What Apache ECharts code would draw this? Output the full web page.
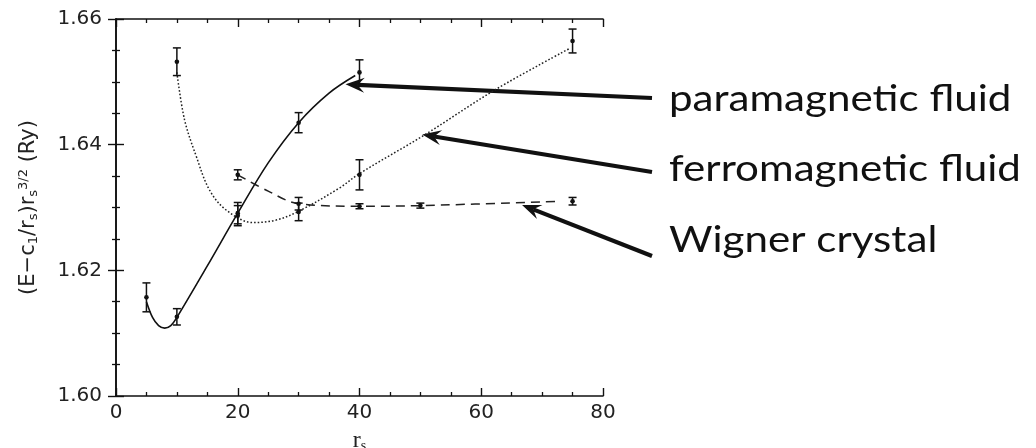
<!DOCTYPE html>
<html>
<head>
<meta charset="utf-8">
<script src="https://cdn.jsdelivr.net/npm/echarts@6/dist/echarts.min.js"></script>
<style>
html,body{margin:0;padding:0;background:#fff;}
#c{width:1036px;height:448px;}
</style>
</head>
<body>
<div id="c"></div>
<script>
// ---- axis ticks ----
const xTicks = [0, 20, 40, 60, 80];
const yTicks = [1.60, 1.62, 1.64, 1.66];

// ---- data points with error bars (r_s, energy, error) ----
const paraR   = [5, 10, 20, 30, 40];
const paraE   = [1.6157, 1.6126, 1.6291, 1.6435, 1.6515];
const paraErr = [0.0023, 0.0013, 0.0017, 0.0016, 0.0020];

const ferroR   = [10, 20, 30, 40, 75];
const ferroE   = [1.6532, 1.6287, 1.6293, 1.6352, 1.6565];
const ferroErr = [0.0022, 0.0016, 0.0014, 0.0024, 0.0019];

const wignerR   = [20, 30, 40, 50, 75];
const wignerE   = [1.6352, 1.6306, 1.6302, 1.6303, 1.6310];
const wignerErr = [0.0008, 0.0010, 0.0004, 0.0004, 0.0006];

// ---- fitted curves ----
const paraCurveR = [5, 6, 7, 8, 9, 10, 15, 20, 25, 30, 35, 39.3];
const paraCurveE = [1.6150, 1.6125, 1.6112, 1.6108, 1.6112, 1.6125, 1.6207, 1.6291, 1.6371, 1.6435, 1.6482, 1.6510];

const ferroCurveR = [10, 11.25, 13.2, 15.35, 18.1, 22.5, 26.3, 30, 36.7, 40, 50.6, 62.4, 74.5];
const ferroCurveE = [1.6515, 1.6440, 1.6381, 1.6328, 1.6296, 1.6276, 1.6280, 1.6294, 1.6331, 1.6354, 1.6415, 1.6488, 1.6553];

const wignerCurveR = [20, 25, 30, 40, 50, 73];
const wignerCurveE = [1.6352, 1.6326, 1.6306, 1.6302, 1.6303, 1.6310];

// ---- annotation labels ----
const labels = ['paramagnetic fluid', 'ferromagnetic fluid', 'Wigner crystal'];
const arrowTipR = [37.7, 50.3, 66.7];
const arrowTipE = [1.6496, 1.6416, 1.6304];

const ink = '#111';
const zip = (a, b) => a.map((v, i) => [v, b[i]]);
const zip3 = (a, b, c) => a.map((v, i) => [v, b[i], c[i]]);

function errRender(params, api) {
  const x = api.value(0), y = api.value(1), e = api.value(2);
  const t = api.coord([x, y + e]);
  const b = api.coord([x, y - e]);
  const c = api.coord([x, y]);
  const cw = 4;
  const st = {stroke: ink, lineWidth: 1.5};
  return {type: 'group', children: [
    {type: 'line', shape: {x1: t[0], y1: t[1], x2: b[0], y2: b[1]}, style: st},
    {type: 'line', shape: {x1: t[0]-cw, y1: t[1], x2: t[0]+cw, y2: t[1]}, style: st},
    {type: 'line', shape: {x1: b[0]-cw, y1: b[1], x2: b[0]+cw, y2: b[1]}, style: st},
    {type: 'circle', shape: {cx: c[0], cy: c[1], r: 2.3}, style: {fill: ink}}
  ]};
}

const axisCommon = {
  type: 'value',
  axisLine: {show: true, lineStyle: {color: ink, width: 1.6}},
  axisTick: {show: true, inside: true, length: 8, lineStyle: {color: ink, width: 1.4}},
  minorTick: {show: true, splitNumber: 4, length: 4, lineStyle: {color: ink, width: 1.3}},
  splitLine: {show: false},
  minorSplitLine: {show: false}
};

const chart = echarts.init(document.getElementById('c'), null, {renderer: 'canvas'});
chart.setOption({
  animation: false,
  backgroundColor: '#fff',
  grid: {left: 116, right: 433, top: 19, bottom: 52, containLabel: false, outerBoundsMode: 'none'},
  xAxis: [
    Object.assign({}, axisCommon, {
      min: xTicks[0], max: xTicks[xTicks.length - 1], interval: xTicks[1] - xTicks[0],
      position: 'bottom',
      axisLabel: {color: '#222', fontSize: 20, fontFamily: 'DejaVu Sans', margin: 7},
      name: 'r{s|s}', nameLocation: 'middle', nameGap: 33,
      nameTextStyle: {color: '#222', fontSize: 24, fontFamily: 'Liberation Serif',
        rich: {s: {fontSize: 14, fontFamily: 'Liberation Serif', color: '#222', padding: [10, 0, 0, 0]}}}
    }),
    Object.assign({}, axisCommon, {
      min: xTicks[0], max: xTicks[xTicks.length - 1], interval: xTicks[1] - xTicks[0],
      position: 'top', axisLabel: {show: false}
    })
  ],
  yAxis: [
    Object.assign({}, axisCommon, {
      min: yTicks[0], max: yTicks[yTicks.length - 1], interval: 0.02,
      position: 'left',
      axisLabel: {color: '#222', fontSize: 20, fontFamily: 'DejaVu Sans', margin: 14,
        formatter: v => v.toFixed(2)},
      name: '(E\u2212c{s|1}/r{s|s})r{s|s}{p|3/2} (Ry)', nameLocation: 'middle', nameGap: 75, nameRotate: 90,
      nameTextStyle: {color: '#222', fontSize: 21, fontFamily: 'DejaVu Sans',
        rich: {
          s: {fontSize: 13, fontFamily: 'DejaVu Sans', color: '#222', padding: [10, 0, 0, 0]},
          p: {fontSize: 13, fontFamily: 'DejaVu Sans', color: '#222', padding: [0, 0, 11, 0]}
        }}
    }),
    Object.assign({}, axisCommon, {
      min: yTicks[0], max: yTicks[yTicks.length - 1], interval: 0.02,
      position: 'right', axisLabel: {show: false}
    })
  ],
  series: [
    {name: 'paramagnetic fluid', type: 'line', data: zip(paraCurveR, paraCurveE), smooth: 0.35,
     showSymbol: false, lineStyle: {color: ink, width: 1.6}, z: 3},
    {name: 'ferromagnetic fluid', type: 'line', data: zip(ferroCurveR, ferroCurveE), smooth: 0.35,
     showSymbol: false, lineStyle: {color: '#222', width: 1.5, type: [1.6, 2]}, z: 3},
    {name: 'Wigner crystal', type: 'line', data: zip(wignerCurveR, wignerCurveE), smooth: 0.35,
     showSymbol: false, lineStyle: {color: '#222', width: 1.5, type: [9, 6]}, z: 3},
    {type: 'custom', renderItem: errRender, data: zip3(paraR, paraE, paraErr), z: 4},
    {type: 'custom', renderItem: errRender, data: zip3(ferroR, ferroE, ferroErr), z: 4},
    {type: 'custom', renderItem: errRender, data: zip3(wignerR, wignerE, wignerErr), z: 4}
  ]
});

// ---- annotations: labels with arrows pointing to the curves ----
const labelX = 669;
const labelTop = [81, 151, 222];
const tailX = 652;
const tailY = [98, 172, 256];
const graphics = [];
labels.forEach((txt, i) => {
  graphics.push({type: 'text', x: labelX, y: labelTop[i], scaleX: 1.17, scaleY: 1,
    style: {text: txt, x: 0, y: 0, fill: ink, font: '36px Lato', verticalAlign: 'top'}});
  const tip = chart.convertToPixel({xAxisIndex: 0, yAxisIndex: 0}, [arrowTipR[i], arrowTipE[i]]);
  const dx = tip[0] - tailX, dy = tip[1] - tailY[i];
  const len = Math.hypot(dx, dy);
  const ux = dx / len, uy = dy / len, nx = -uy, ny = ux;
  const L = 19, W = 7.5, N = 12;
  graphics.push({type: 'line', shape: {x1: tailX, y1: tailY[i], x2: tip[0] - ux * N, y2: tip[1] - uy * N},
    style: {stroke: ink, lineWidth: 4.2}});
  graphics.push({type: 'polygon', shape: {points: [
    [tip[0], tip[1]],
    [tip[0] - ux * L + nx * W, tip[1] - uy * L + ny * W],
    [tip[0] - ux * N, tip[1] - uy * N],
    [tip[0] - ux * L - nx * W, tip[1] - uy * L - ny * W]
  ]}, style: {fill: ink}});
});
chart.setOption({graphic: graphics});
</script>
</body>
</html>
